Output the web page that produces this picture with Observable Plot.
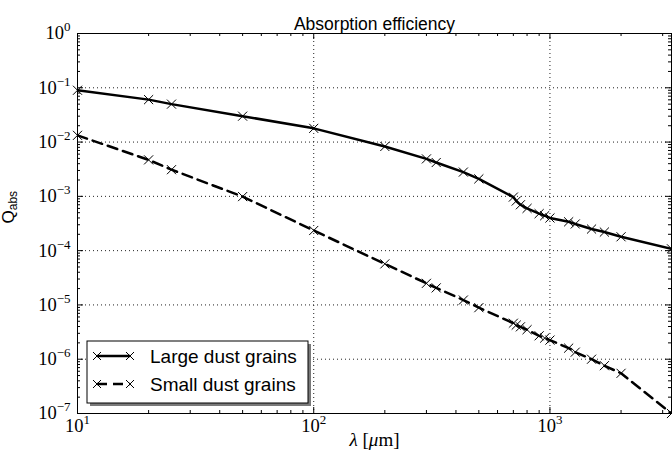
<!DOCTYPE html>
<html>
<head>
<meta charset="utf-8">
<script src="https://cdn.jsdelivr.net/npm/d3@7"></script>
<script src="https://cdn.jsdelivr.net/npm/@observablehq/plot@0.6"></script>
<style>
  html, body { margin: 0; padding: 0; background: #fff; }
  #chart svg { display: block; background: #fff; }
</style>
</head>
<body>
<div id="chart"></div>
<script>
// ---- data ----
const wavelengths = [10, 20, 25, 50, 100, 200, 300, 330, 430, 500, 700, 720, 750, 800, 900, 950, 1000, 1200, 1280, 1500, 1700, 2000, 3270];
const largeQ = [0.090, 0.0605, 0.050, 0.030, 0.0179, 0.0083, 0.0049, 0.0042, 0.0028, 0.0021, 0.00097, 0.00082, 0.00070, 0.00060, 0.00048, 0.00044, 0.00040, 0.00034, 0.00031, 0.00025, 0.00022, 0.00018, 0.000108];
const smallQ = [0.0133, 0.0047, 0.0031, 0.00099, 0.000235, 5.7e-5, 2.5e-5, 2.06e-5, 1.23e-5, 8.9e-6, 4.6e-6, 4.25e-6, 3.95e-6, 3.5e-6, 2.7e-6, 2.45e-6, 2.25e-6, 1.6e-6, 1.35e-6, 1.0e-6, 7.6e-7, 5.5e-7, 1.0e-7];
const seriesNames = ["Large dust grains", "Small dust grains"];
const xMajor = [10, 100, 1000];
const yMajor = [1e-7, 1e-6, 1e-5, 1e-4, 1e-3, 1e-2, 1e-1, 1];
const titleText = "Absorption efficiency";
const xLabelText = "λ [μm]";
const yLabelText = "Qabs";

// minor ticks (axis decoration)
const xMinor = [];
for (const dec of [10, 100, 1000]) for (let m = 2; m <= 9; m++) if (m * dec <= 3270) xMinor.push(m * dec);
const yMinor = [];
for (let e = -7; e < 0; e++) for (let m = 2; m <= 9; m++) yMinor.push(m * Math.pow(10, e));

const rows = wavelengths.flatMap((w, i) => [
  {series: seriesNames[0], lambda: w, q: largeQ[i]},
  {series: seriesNames[1], lambda: w, q: smallQ[i]}
]);
const large = rows.filter(d => d.series === seriesNames[0]);
const small = rows.filter(d => d.series === seriesNames[1]);

const W = 672, H = 459, mT = 33, mL = 77, mR = 1, mB = 46;
const fw = W - mL - mR, fh = H - mT - mB;
const serif = "'Liberation Serif', 'DejaVu Serif', serif";
const sans = "'Liberation Sans', Arial, sans-serif";

function tickSet(xs, ys, len) {
  const o = {stroke: "black", strokeWidth: 1};
  return [
    Plot.tickX(xs, {x: d => d, insetTop: fh - len, ...o}),
    Plot.tickX(xs, {x: d => d, insetBottom: fh - len, ...o}),
    Plot.tickY(ys, {y: d => d, insetRight: fw - len, ...o}),
    Plot.tickY(ys, {y: d => d, insetLeft: fw - len, ...o})
  ];
}

const chart = Plot.plot({
  width: W, height: H,
  marginTop: mT, marginLeft: mL, marginRight: mR, marginBottom: mB,
  style: {background: "white", overflow: "visible"},
  x: {type: "log", domain: [10, 3270], axis: null},
  y: {type: "log", domain: [1e-7, 1], axis: null},
  marks: [
    Plot.ruleX(xMajor, {x: d => d, stroke: "#222", strokeWidth: 1, strokeDasharray: "1,3"}),
    Plot.ruleY(yMajor, {y: d => d, stroke: "#222", strokeWidth: 1, strokeDasharray: "1,3"}),
    ...tickSet(xMajor, yMajor, 6),
    ...tickSet(xMinor, yMinor, 3),
    Plot.line(large, {x: "lambda", y: "q", stroke: "black", strokeWidth: 2.5, clip: true}),
    Plot.line(small, {x: "lambda", y: "q", stroke: "black", strokeWidth: 2.5, strokeDasharray: "10,6", clip: true}),
    Plot.dot(large, {x: "lambda", y: "q", symbol: "times", r: 4.2, stroke: "black", strokeWidth: 1}),
    Plot.dot(small, {x: "lambda", y: "q", symbol: "times", r: 4.2, stroke: "black", strokeWidth: 1}),
    Plot.frame({stroke: "black", strokeWidth: 1}),
    Plot.text(yMajor, {y: d => d, text: d => "10^" + Math.round(Math.log10(d)), frameAnchor: "left", dx: -7, textAnchor: "end", fontSize: 18.5, fontFamily: serif, fill: "black"}),
    Plot.text(xMajor, {x: d => d, text: d => "10^" + Math.round(Math.log10(d)), frameAnchor: "bottom", dy: 18, textAnchor: "middle", fontSize: 18.5, fontFamily: serif, fill: "black"}),
    Plot.text([titleText], {text: d => d, frameAnchor: "top", dy: -16, fontSize: 17.5, fontFamily: sans, fill: "black"}),
    Plot.text([xLabelText], {text: d => d, frameAnchor: "bottom", dy: 32, fontSize: 19, fontFamily: serif, fill: "black"}),
    Plot.text([yLabelText], {text: d => d, frameAnchor: "left", dx: -69, rotate: -90, fontSize: 17, fontFamily: sans, fill: "black"})
  ]
});

document.getElementById("chart").appendChild(chart);
const svg = d3.select(chart);
const NS = "http://www.w3.org/2000/svg";

svg.selectAll("text").each(function() {
  const t = this;
  const s = t.textContent;
  if (s.startsWith("10^")) {
    const [b, e] = s.split("^");
    t.textContent = "";
    const s1 = document.createElementNS(NS, "tspan");
    s1.textContent = b;
    const s2 = document.createElementNS(NS, "tspan");
    s2.textContent = e.replace("-", "\u2212");
    s2.setAttribute("dy", "-8");
    s2.setAttribute("font-size", "13");
    t.appendChild(s1); t.appendChild(s2);
  } else if (s === xLabelText) {
    t.textContent = "";
    [["λ", true], [" [", false], ["μ", true], ["m]", false]].forEach(([str, it]) => {
      const sp = document.createElementNS(NS, "tspan");
      sp.textContent = str;
      if (it) sp.setAttribute("font-style", "italic");
      t.appendChild(sp);
    });
  } else if (s === yLabelText) {
    t.textContent = "";
    const a = document.createElementNS(NS, "tspan"); a.textContent = "Q";
    const b = document.createElementNS(NS, "tspan"); b.textContent = "abs";
    b.setAttribute("font-size", "12"); b.setAttribute("dy", "3");
    t.appendChild(a); t.appendChild(b);
  }
});

// legend
const lg = svg.append("g").attr("aria-label", "legend").attr("text-anchor", "start");
const bx = mL + 10, by = H - mB - 72, bw = 221, bh = 62;
lg.append("rect").attr("x", bx + 3).attr("y", by + 3).attr("width", bw).attr("height", bh).attr("fill", "#7a7a7a");
lg.append("rect").attr("x", bx).attr("y", by).attr("width", bw).attr("height", bh).attr("fill", "white").attr("stroke", "black").attr("stroke-width", 1);
const entries = [{name: seriesNames[0], dash: null, y: by + 15}, {name: seriesNames[1], dash: "10,6", y: by + 43}];
entries.forEach(en => {
  const x1 = bx + 10, x2 = bx + 43;
  const ln = lg.append("line").attr("x1", x1).attr("x2", x2).attr("y1", en.y).attr("y2", en.y)
    .attr("stroke", "black").attr("stroke-width", 2.5);
  if (en.dash) ln.attr("stroke-dasharray", en.dash);
  [x1, x2].forEach(cx => {
    lg.append("path").attr("d", `M${cx-4},${en.y-4}L${cx+4},${en.y+4}M${cx-4},${en.y+4}L${cx+4},${en.y-4}`)
      .attr("stroke", "black").attr("stroke-width", 1).attr("fill", "none");
  });
  lg.append("text").attr("x", bx + 63).attr("y", en.y + 7).attr("font-family", sans).attr("font-size", 19)
    .attr("text-anchor", "start").attr("fill", "black").text(en.name);
});
</script>
</body>
</html>
